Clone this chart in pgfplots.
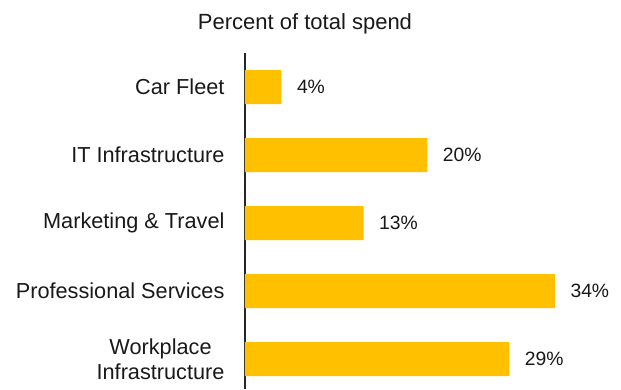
\documentclass[border=0pt]{standalone}
\usepackage{fontspec}
\setmainfont{Liberation Sans}
\usepackage{pgfplots}
\pgfplotsset{compat=1.18}
\definecolor{baryellow}{HTML}{FFC000}
\begin{document}
\begin{tikzpicture}
\begin{axis}[
 scale only axis,
 width=310pt, height=336pt,
 xbar, bar width=34pt,
 xmin=0, xmax=34,
 ymin=-0.5, ymax=4.44,
 y dir=reverse,
 axis x line=none,
 axis y line=left,
 y axis line style={-, line width=1.3pt, black!85},
 ytick={0,1,2,3,4},
 yticklabels={Car Fleet, IT Infrastructure, Marketing \& Travel, Professional Services, {Workplace\\Infrastructure}},
 yticklabel style={font=\fontsize{21.7}{24.5}\selectfont, align=center, xshift=-17pt, text=black!90},
 major tick length=0pt,
 ytick style={draw=none},
 nodes near coords={\pgfmathprintnumber{\pgfplotspointmeta}\%},
 nodes near coords style={font=\fontsize{19.3}{22}\selectfont, anchor=west, xshift=12pt, text=black!90},
 /pgf/number format/assume math mode=true,
 clip=false,
]
\addplot[fill=baryellow, draw=none] coordinates {(4,0) (20,1) (13,2) (34,3) (29,4)};
\end{axis}
\node[font=\fontsize{22}{24}\selectfont, anchor=base, text=black!90] at ([xshift=60pt,yshift=23pt]current axis.north west) {Percent of total spend};
\pgfresetboundingbox
\path[use as bounding box] ([xshift=-245pt]current axis.south west) rectangle ++(621pt,389pt);
\end{tikzpicture}
\end{document}
